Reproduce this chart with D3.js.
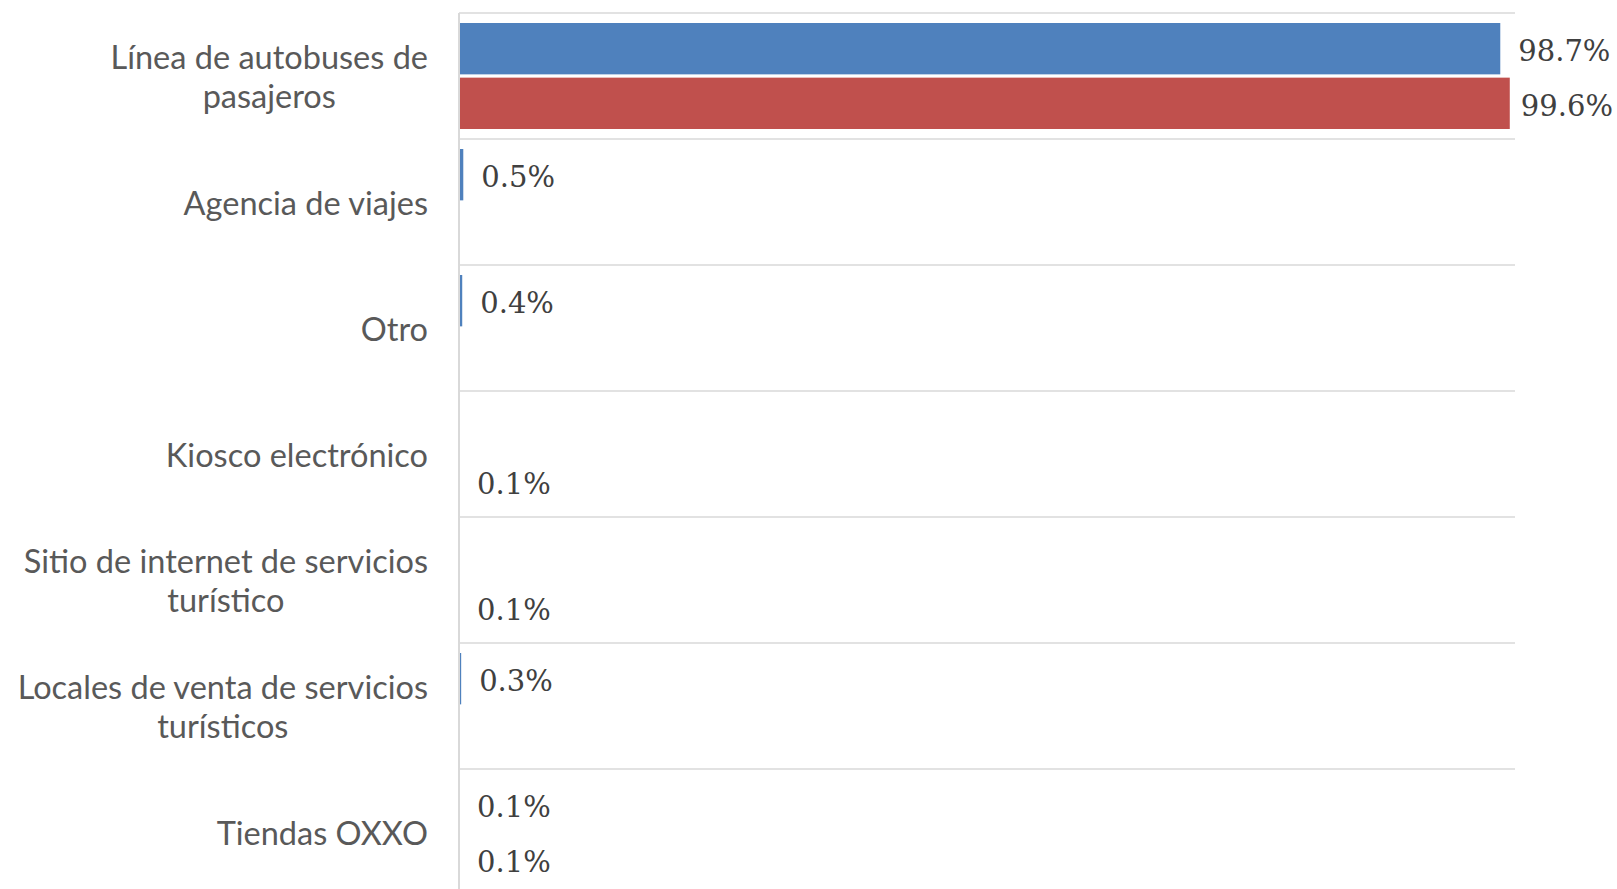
<!DOCTYPE html>
<html>
<head>
<meta charset="utf-8">
<script src="https://cdn.jsdelivr.net/npm/d3@7"></script>
<style>
  html, body { margin: 0; padding: 0; background: #ffffff; }
  svg { display: block; }
</style>
</head>
<body>
<svg id="chart" width="1617" height="889"></svg>
<script>
// ---- data ----
const categories = [
  "Línea de autobuses de pasajeros",
  "Agencia de viajes",
  "Otro",
  "Kiosco electrónico",
  "Sitio de internet de servicios turístico",
  "Locales de venta de servicios turísticos",
  "Tiendas OXXO"
];
const seriesNames = ["Serie 1", "Serie 2"];
const series1Values = [98.7, 0.5, 0.4, null, null, 0.3, 0.1];
const series2Values = [99.6, null, null, 0.1, 0.1, null, 0.1];
const seriesColors = ["#4F81BD", "#C0504D"];

// ---- layout ----
const W = 1617, H = 889;
const plotLeft = 459, plotRight = 1515;
const plotTop = 13, bandStep = 126;

const svg = d3.select("#chart");

const x = d3.scaleLinear().domain([0, 100]).range([458, 1514]);
const y = d3.scaleBand().domain(categories)
  .range([plotTop, plotTop + bandStep * categories.length]).paddingInner(0).paddingOuter(0);
const ySub = d3.scaleBand().domain(seriesNames).range([10, bandStep - 10]).paddingInner(0.06);

// gridlines (category separators)
const gridY = categories.map(c => y(c)).concat([y(categories[categories.length - 1]) + y.bandwidth()]);
svg.append("g").selectAll("line").data(gridY).join("line")
  .attr("x1", plotLeft).attr("x2", plotRight)
  .attr("y1", d => d).attr("y2", d => d)
  .attr("stroke", "#d9d9d9").attr("stroke-width", 1.5);

// bars
const rows = [];
categories.forEach((c, i) => {
  [series1Values, series2Values].forEach((arr, s) => {
    if (arr[i] != null) rows.push({ cat: c, s: s, name: seriesNames[s], v: arr[i] });
  });
});

svg.append("g").selectAll("rect").data(rows).join("rect")
  .attr("x", x(0))
  .attr("y", d => y(d.cat) + ySub(d.name))
  .attr("width", d => Math.max(0, x(d.v) - x(0)))
  .attr("height", ySub.bandwidth())
  .attr("fill", d => seriesColors[d.s]);

// vertical axis line (drawn over bar bases)
const yAxis = d3.axisLeft(y).tickSize(0).tickFormat("");
const gy = svg.append("g").attr("transform", `translate(${plotLeft},0)`).call(yAxis);
gy.select(".domain").attr("stroke", "#d9d9d9").attr("stroke-width", 2)
  .attr("d", `M0,${plotTop}V${H + 10}`);

// value labels
const fmt = v => d3.format(".1f")(v) + "%";
svg.append("g").selectAll("text").data(rows).join("text")
  .attr("font-family", "'DejaVu Serif', serif")
  .attr("font-size", 29)
  .attr("fill", "#404040")
  .attr("dominant-baseline", "central")
  .attr("y", d => y(d.cat) + ySub(d.name) + ySub.bandwidth() / 2 + 2.5)
  .text(d => fmt(d.v))
  .attr("x", function (d) {
    const w = this.getComputedTextLength();
    return Math.min(Math.max(x(d.v), plotLeft) + 18, W - 4 - w);
  });

// category labels (wrapped, lines centered within a right-aligned block)
const labelRight = 428, maxLabelW = 420, lineH = 39, labelSize = 32.5;
const measure = svg.append("text").attr("font-family", "Lato, sans-serif").attr("font-size", labelSize)
  .attr("visibility", "hidden");
function textW(t) { measure.text(t); return measure.node().getComputedTextLength(); }
function wrap(label) {
  const words = label.split(" ");
  const lines = [];
  let cur = "";
  words.forEach(wd => {
    const test = cur ? cur + " " + wd : wd;
    if (textW(test) > maxLabelW && cur) { lines.push(cur); cur = wd; }
    else cur = test;
  });
  if (cur) lines.push(cur);
  return lines;
}
const labG = svg.append("g");
categories.forEach(c => {
  const lines = wrap(c);
  const blockW = d3.max(lines, l => textW(l));
  const cx = labelRight - blockW / 2;
  const cy = y(c) + y.bandwidth() / 2;
  const t = labG.append("text")
    .attr("font-family", "Lato, sans-serif").attr("font-size", labelSize)
    .attr("fill", "#595959").attr("text-anchor", "middle");
  lines.forEach((l, i) => {
    t.append("tspan").attr("x", cx)
      .attr("y", cy + (i - (lines.length - 1) / 2) * lineH)
      .attr("dominant-baseline", "central")
      .text(l);
  });
});
measure.remove();
</script>
</body>
</html>
